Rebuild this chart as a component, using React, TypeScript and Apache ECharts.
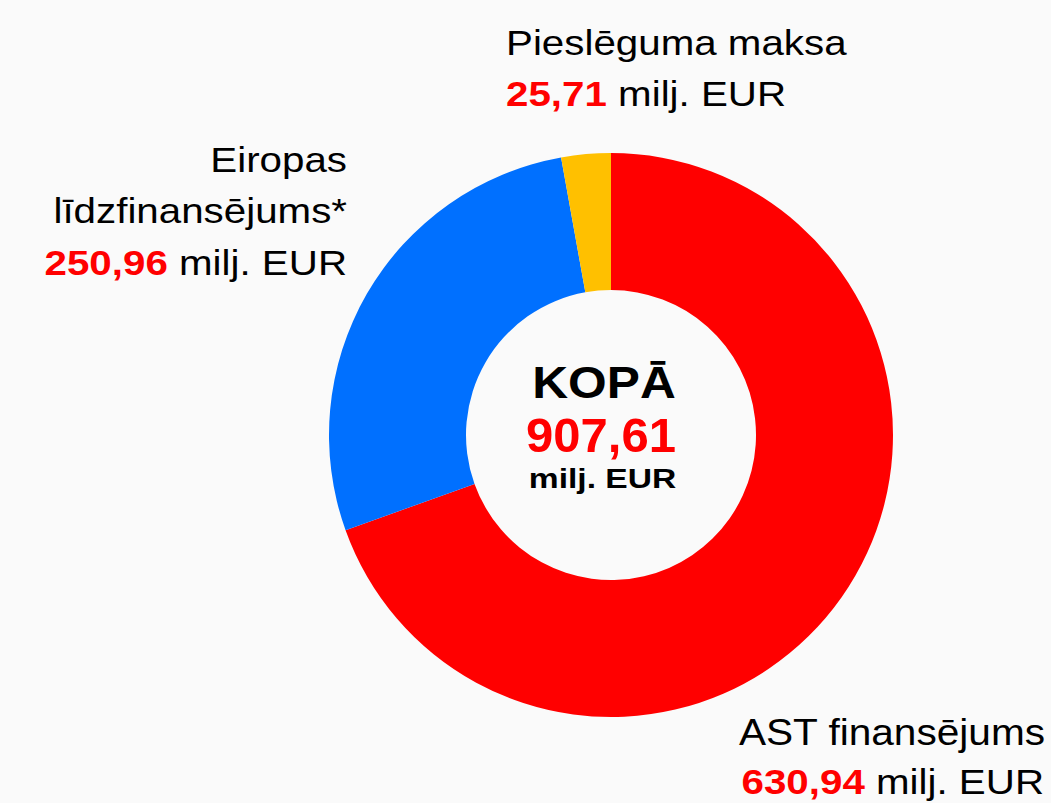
import React, { useEffect, useRef } from "react";
import * as echarts from "echarts";

const categories = ["AST finansējums", "Eiropas līdzfinansējums*", "Pieslēguma maksa"];
const values = [630.94, 250.96, 25.71];
const colors = ["#ff0000", "#0070ff", "#ffc000"];
const nameLines = [["AST finansējums"], ["Eiropas", "līdzfinansējums*"], ["Pieslēguma maksa"]];
const unit = "milj. EUR";
const totalTitle = "KOPĀ";

const FONT = '"Liberation Sans", Arial, Helvetica, sans-serif';

const fmt = (v: number) => v.toFixed(2).replace(".", ",");

function plainText(x: number, y: number, text: string, align: string, fs: number, sx: number, weight = "normal", fill = "#000") {
  return {
    type: "text",
    x,
    y,
    scaleX: sx,
    style: {
      text,
      fill,
      fontSize: fs,
      fontFamily: FONT,
      fontWeight: weight,
      align,
      verticalAlign: "middle",
    },
  };
}

function valueText(x: number, y: number, v: number, align: string, fs: number, sx: number) {
  return {
    type: "text",
    x,
    y,
    scaleX: sx,
    style: {
      text: `{a|${fmt(v)}}{b| ${unit}}`,
      align,
      verticalAlign: "middle",
      rich: {
        a: { fontSize: fs, fontFamily: FONT, fontWeight: "bold", fill: "#ff0000", lineHeight: fs },
        b: { fontSize: fs, fontFamily: FONT, fontWeight: "normal", fill: "#000", lineHeight: fs },
      },
    },
  };
}

export default function App() {
  const ref = useRef<HTMLDivElement>(null);
  useEffect(() => {
    if (!ref.current) return;
    const chart = echarts.init(ref.current, null, { renderer: "svg" });
    const total = values.reduce((a, b) => a + b, 0);
    const fs = 36;
    const sx = 1.12;
    const graphic: any[] = [
      // Pieslēguma maksa (top)
      plainText(506, 42, nameLines[2][0], "left", fs, sx),
      valueText(506, 93, values[2], "left", fs, sx),
      // Eiropas (left)
      plainText(347, 159, nameLines[1][0], "right", fs, sx),
      plainText(347, 210, nameLines[1][1], "right", fs, sx),
      valueText(347, 262, values[1], "right", fs, sx),
      // AST (bottom right)
      plainText(1045, 732, nameLines[0][0], "right", fs, 1.128),
      valueText(1044, 781, values[0], "right", fs, 1.12),
      // center
      plainText(604, 383.5, totalTitle, "center", 44, 1.13, "bold"),
      plainText(601, 435, fmt(total), "center", 49, 1.0, "bold", "#ff0000"),
      plainText(602.5, 478, unit, "center", 28, 1.2, "bold"),
    ];
    chart.setOption({
      animation: false,
      backgroundColor: "#fafafa",
      series: [
        {
          type: "pie",
          center: [611, 435],
          radius: [145, 282],
          startAngle: 90,
          clockwise: true,
          label: { show: false },
          labelLine: { show: false },
          emphasis: { disabled: true },
          data: categories.map((c, i) => ({ name: c, value: values[i], itemStyle: { color: colors[i] } })),
        },
      ],
      graphic,
    });
    return () => chart.dispose();
  }, []);
  return <div ref={ref} style={{ position: "fixed", left: 0, top: 0, width: 1051, height: 803 }} />;
}
